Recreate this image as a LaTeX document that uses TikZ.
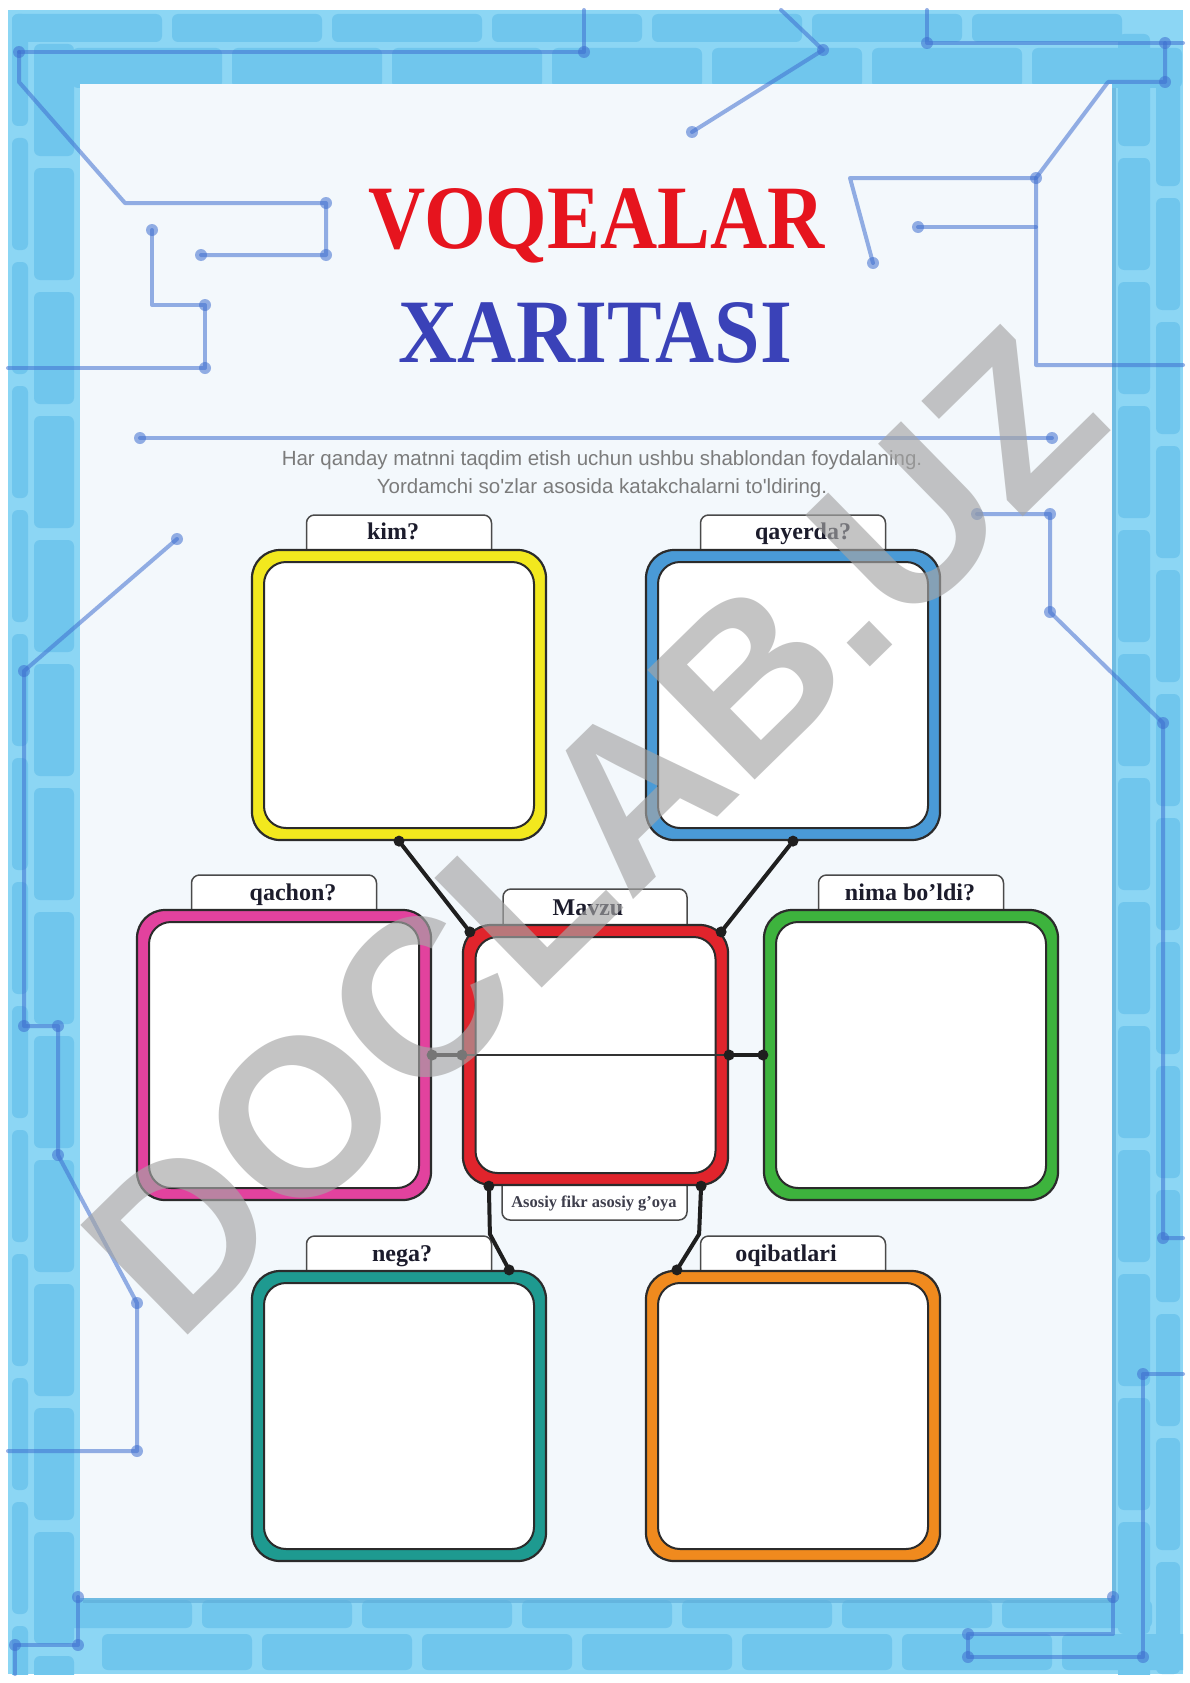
\documentclass[tikz,border=0pt]{standalone}
\usepackage{fontspec}
\setmainfont{Liberation Serif}
\newfontfamily\subfont{Liberation Sans}
\usetikzlibrary{calc}
\definecolor{bgblue}{HTML}{8CD6F4}
\definecolor{tileblue}{HTML}{70C6ED}
\definecolor{circ}{HTML}{3F6FD0}
\definecolor{panelc}{HTML}{F3F8FC}
\definecolor{shadowc}{HTML}{5DAAD6}
\definecolor{outl}{HTML}{2B2B2B}
\definecolor{tabgray}{HTML}{4A4A4A}
\definecolor{labelc}{HTML}{1C1C2C}
\definecolor{titlered}{HTML}{E6141E}
\definecolor{titleblue}{HTML}{3A42B8}
\definecolor{subgray}{HTML}{7B7B7B}
\definecolor{cyellow}{HTML}{F2E81E}
\definecolor{cblue}{HTML}{4A9AD6}
\definecolor{cmagenta}{HTML}{E2429E}
\definecolor{cred}{HTML}{E0242C}
\definecolor{cgreen}{HTML}{3DB33D}
\definecolor{cteal}{HTML}{1E9A90}
\definecolor{corange}{HTML}{F08A1E}
\definecolor{wmgray}{HTML}{A5A5A5}
\tikzset{
  ring/.style={draw=outl, line width=2.2pt, fill=#1, rounded corners=28pt,
    minimum width=294pt, minimum height=290pt, inner sep=0pt},
  hole/.style={draw=outl, line width=2pt, fill=white, rounded corners=22pt,
    minimum width=270pt, minimum height=266pt, inner sep=0pt},
  tabbox/.style={draw=tabgray, line width=1.5pt, fill=white, rounded corners=8pt,
    minimum width=185pt, minimum height=44pt, inner sep=0pt},
  lbl/.style={font=\fontsize{24}{28}\selectfont\bfseries, text=labelc, anchor=base, inner sep=0pt},
  conn/.style={line width=4pt, draw=black!88, line cap=round, line join=round},
  thinconn/.style={line width=2pt, draw=black!80},
  jdot/.style={fill=black!88},
  circline/.style={line width=4pt, draw=circ, opacity=0.55, line cap=round, line join=round},
  cdot/.style={fill=circ, opacity=0.55},
  tile/.style={fill=tileblue, rounded corners=6pt},
  subtxt/.style={font=\subfont\fontsize{20.5}{24}\selectfont, text=subgray, anchor=base, inner sep=0pt}
}
\begin{document}
\begin{tikzpicture}[x=1pt,y=-1pt]
\useasboundingbox (0,0) rectangle (1190,1683);
\fill[white] (0,0) rectangle (1190,1683);
\fill[bgblue] (8,10) rectangle (1183,1674);
\begin{scope}
\clip (8,10) rectangle (1183,1674);
% left and right margin blocks
\foreach \y in {14,138,262,386,510,634,758,882,1006,1130,1254,1378,1502,1626} {
  \fill[tile] (12,\y) rectangle ++(16,112);
  \fill[tile] (34,\y+30) rectangle ++(40,112);
  \fill[tile] (1118,\y+20) rectangle ++(32,112);
  \fill[tile] (1156,\y+60) rectangle ++(24,112);
}
% top and bottom margin blocks
\foreach \x in {12,172,332,492,652,812,972} {
  \fill[tile] (\x,14) rectangle ++(150,28);
  \fill[tile] (\x+60,48) rectangle ++(150,40);
  \fill[tile] (\x+30,1600) rectangle ++(150,28);
  \fill[tile] (\x+90,1634) rectangle ++(150,36);
}
\end{scope}
% panel with shadow
\fill[shadowc, opacity=0.6] (83,88) rectangle (1116,1603);
\fill[panelc] (80,84) rectangle (1112,1598);
% circuit lines
\draw[circline] (19,52) -- (584,52) -- (584,10);
\draw[circline] (19,52) -- (19,82) -- (125,203) -- (326,203) -- (326,255) -- (201,255);
\draw[circline] (152,230) -- (152,305) -- (205,305) -- (205,368) -- (8,368);
\draw[circline] (692,132) -- (823,50) -- (781,10);
\draw[circline] (927,10) -- (927,43) -- (1183,43);
\draw[circline] (1165,43) -- (1165,82) -- (1108,82) -- (1036,178) -- (1036,365) -- (1183,365);
\draw[circline] (1036,178) -- (850,178) -- (873,263);
\draw[circline] (918,227) -- (1036,227);
\draw[circline] (140,438) -- (1052,438);
\draw[circline] (177,539) -- (24,671) -- (24,1026) -- (58,1026) -- (58,1155) -- (137,1303) -- (137,1451) -- (8,1451);
\draw[circline] (78,1597) -- (78,1645) -- (15,1645) -- (15,1674);
\draw[circline] (977,514) -- (1050,514) -- (1050,612) -- (1163,723) -- (1163,1238) -- (1183,1238);
\draw[circline] (1183,1374) -- (1143,1374) -- (1143,1657) -- (968,1657) -- (968,1634) -- (1113,1634) -- (1113,1597);
\foreach \p in {(19,52),(584,52),(326,203),(326,255),(201,255),(152,230),(205,305),(205,368),
  (692,132),(823,50),(927,43),(1165,43),(1165,82),(1036,178),(873,263),(918,227),
  (140,438),(1052,438),(177,539),(24,671),(24,1026),(58,1026),(58,1155),(137,1303),(137,1451),
  (78,1597),(78,1645),(15,1645),(977,514),(1050,514),(1050,612),(1163,723),(1163,1238),
  (1143,1374),(1143,1657),(968,1657),(968,1634),(1113,1597)}
  \fill[cdot] \p circle (6);
% title
\node[anchor=base, inner sep=0pt, text=titlered, font=\fontsize{90.6}{100}\selectfont\bfseries] (t1) at (596.5,248) {\scalebox{0.874}[1]{VOQEALAR}};
\node[anchor=base, inner sep=0pt, text=titleblue, font=\fontsize{90.6}{100}\selectfont\bfseries] (t2) at (595,362) {\scalebox{0.903}[1]{XARITASI}};
\node[subtxt] (s1) at (602,465) {Har qanday matnni taqdim etish uchun ushbu shablondan foydalaning.};
\node[subtxt] (s2) at (602,493) {Yordamchi so'zlar asosida katakchalarni to'ldiring.};
% tabs
\node[tabbox] (kimtab) at (399,537) {};
\node[tabbox] (qaytab) at (793,537) {};
\node[tabbox] (qachtab) at (284,897) {};
\node[tabbox] (nimatab) at (911,897) {};
\node[tabbox] (negatab) at (399,1258) {};
\node[tabbox] (oqibtab) at (793,1258) {};
\node[tabbox, minimum width=184pt] (mavtab) at (595,911) {};
\node[tabbox, minimum width=185pt, minimum height=42pt] (asostab) at (594.5,1199) {};
% boxes
\node[ring=cyellow] (kim) at (399,695) {};
\node[hole] (kimin) at (kim.center) {};
\node[ring=cblue] (qay) at (793,695) {};
\node[hole] (qayin) at (qay.center) {};
\node[ring=cmagenta] (qach) at (284,1055) {};
\node[hole] (qachin) at (qach.center) {};
\node[ring=cgreen] (nima) at (911,1055) {};
\node[hole] (nimain) at (nima.center) {};
\node[ring=cteal] (nega) at (399,1416) {};
\node[hole] (negain) at (nega.center) {};
\node[ring=corange] (oqib) at (793,1416) {};
\node[hole] (oqibin) at (oqib.center) {};
\node[ring=cred, minimum width=265pt, minimum height=260pt] (mav) at (595.5,1055) {};
\node[hole, minimum width=240pt, minimum height=236pt] (mavin) at (mav.center) {};
% labels
\node[lbl] (kiml) at (393,539) {kim?};
\node[lbl] (qayl) at (803,539) {qayerda?};
\node[lbl] (qachl) at (293,900) {qachon?};
\node[lbl] (maval) at (588,915) {Mavzu};
\node[lbl] (nimal) at (910,900) {nima bo'ldi?};
\node[lbl] (negal) at (402,1261) {nega?};
\node[lbl] (oqibl) at (786,1261) {oqibatlari};
\node[anchor=base, inner sep=0pt, text=labelc!85!white, font=\fontsize{16.5}{18}\selectfont\bfseries] (asosl) at (594,1207) {Asosiy fikr asosiy g'oya};
% connectors
\coordinate (mTL) at ($(mav.north west)+(8,8)$);
\coordinate (mTR) at ($(mav.north east)+(-8,8)$);
\coordinate (mBL) at ($(mav.south west)+(27,0)$);
\coordinate (mBR) at ($(mav.south east)+(-28,0)$);
\coordinate (nTR) at ($(nega.north east)+(-38,0)$);
\coordinate (oTL) at ($(oqib.north west)+(32,0)$);
\draw[thinconn] (mav.west) -- (mav.east);
\draw[conn] (kim.south) -- (mTL);
\draw[conn] (qay.south) -- (mTR);
\draw[conn] (qach.east) -- (mav.west);
\draw[conn] (mav.east) -- (nima.west);
\draw[conn] (mBL) -- ++(1,48) -- (nTR);
\draw[conn] (mBR) -- ++(-2,48) -- (oTL);
\foreach \n in {kim.south,qay.south,mTL,mTR,qach.east,mav.west,mav.east,nima.west,mBL,mBR,nTR,oTL}
  \fill[jdot] (\n) circle (5.5);
% watermark
\node[font=\subfont\bfseries\fontsize{223}{223}\selectfont, text=wmgray, text opacity=0.65, rotate=44.4, inner sep=0pt] (wm) at (593,831) {DOCLAB.UZ};
\end{tikzpicture}
\end{document}
